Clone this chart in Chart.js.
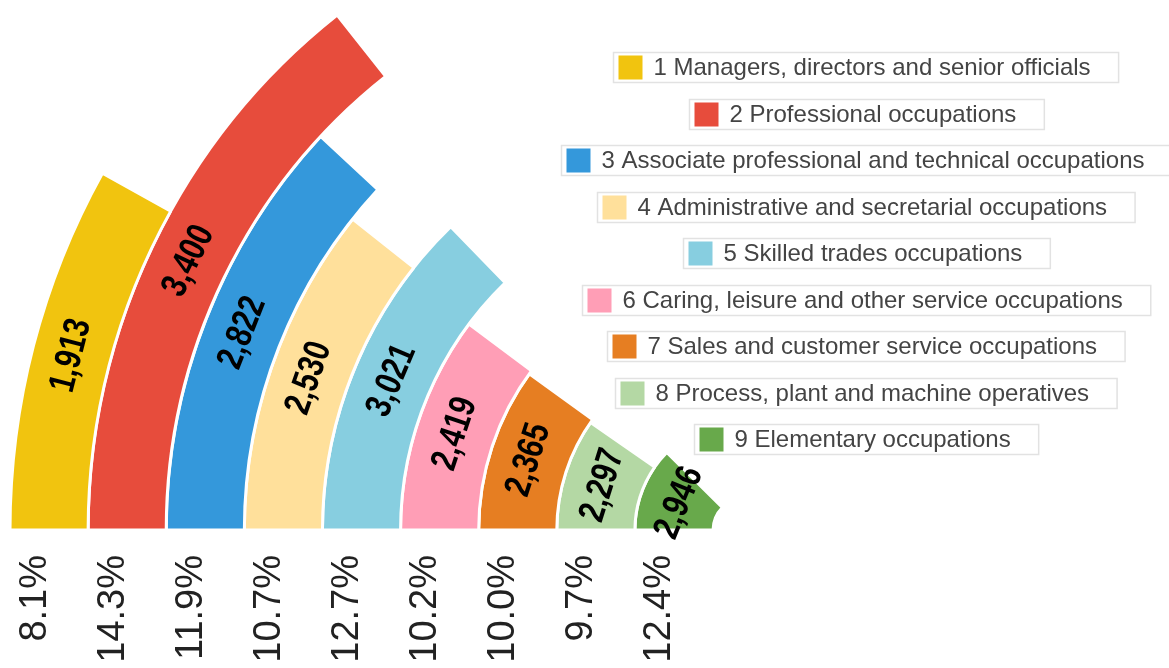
<!DOCTYPE html>
<html>
<head>
<meta charset="utf-8">
<title>Occupations</title>
<script src="https://cdn.jsdelivr.net/npm/chart.js@4.4.0/dist/chart.umd.min.js"></script>
<style>
  html, body { margin: 0; padding: 0; background: #fff; overflow: hidden; }
  #wrap { width: 1169px; height: 668px; position: relative; }
</style>
</head>
<body>
<div id="wrap">
  <canvas id="radialChart" width="1169" height="668"></canvas>
</div>
<script>
// categories, values and colours
const categories = [
  "1 Managers, directors and senior officials",
  "2 Professional occupations",
  "3 Associate professional and technical occupations",
  "4 Administrative and secretarial occupations",
  "5 Skilled trades occupations",
  "6 Caring, leisure and other service occupations",
  "7 Sales and customer service occupations",
  "8 Process, plant and machine operatives",
  "9 Elementary occupations",
];
const counts = [1913, 3400, 2822, 2530, 3021, 2419, 2365, 2297, 2946];
const colours = [
  "#F1C40F", "#E74C3C", "#3498DB", "#FFE09B", "#87CEE0",
  "#FF9EB6", "#E67E22", "#B4D8A4", "#68A94B",
];

const total = counts.reduce((a, b) => a + b, 0);

// one ring per category: the coloured part is the share of the full circle
const datasets = counts.map((v, i) => ({
  label: categories[i],
  data: [v, total - v],
  backgroundColor: [colours[i], "rgba(0,0,0,0)"],
  borderColor: ["#ffffff", "rgba(0,0,0,0)"],
  borderWidth: [3, 0],
  clip: false,
}));

// value along each arc + percent under each ring
const ringLabels = {
  id: "ringLabels",
  afterDatasetsDraw(chart) {
    const ctx = chart.ctx;
    chart.data.datasets.forEach((ds, i) => {
      const arc = chart.getDatasetMeta(i).data[0];
      const p = arc.getProps(["x", "y", "startAngle", "endAngle", "innerRadius", "outerRadius"], true);
      const mid = (p.startAngle + p.endAngle) / 2;
      const r = (p.innerRadius + p.outerRadius) / 2;

      ctx.save();
      ctx.translate(p.x + r * Math.cos(mid), p.y + r * Math.sin(mid));
      ctx.rotate(mid + Math.PI / 2);
      ctx.scale(0.8, 1);
      ctx.fillStyle = "#000";
      ctx.font = "bold 37px 'Liberation Sans', Arial, sans-serif";
      ctx.textAlign = "center";
      ctx.textBaseline = "middle";
      ctx.fillText(ds.data[0].toLocaleString("en-GB"), 0, 0);
      ctx.restore();

      const pct = ((ds.data[0] / total) * 100).toFixed(1) + "%";
      ctx.save();
      ctx.translate(p.x - r - 14, p.y + 25);
      ctx.rotate(-Math.PI / 2);
      ctx.fillStyle = "#222";
      ctx.font = "38px 'Liberation Sans', Arial, sans-serif";
      ctx.textAlign = "right";
      ctx.textBaseline = "middle";
      ctx.fillText(pct, 0, 0);
      ctx.restore();
    });
  },
};

// boxed legend on the right, one centred row per ring
const boxLegend = {
  id: "boxLegend",
  afterDraw(chart) {
    const ctx = chart.ctx;
    const cx = 866;
    const top = 67;
    const step = 46.5;
    ctx.save();
    ctx.font = "24px 'Liberation Sans', Arial, sans-serif";
    chart.data.datasets.forEach((ds, i) => {
      const tw = ctx.measureText(ds.label).width;
      const w = 40 + tw + 28;
      const x = Math.round(cx - w / 2) + 0.5;
      const y = Math.round(top + i * step - 15) + 0.5;
      ctx.fillStyle = "#fff";
      ctx.fillRect(x, y, w, 30);
      ctx.strokeStyle = "#e2e2e2";
      ctx.lineWidth = 1.5;
      ctx.strokeRect(x, y, w, 30);
      ctx.fillStyle = ds.backgroundColor[0];
      ctx.fillRect(x + 5, y + 3, 24, 24);
      ctx.fillStyle = "#444";
      ctx.textAlign = "left";
      ctx.textBaseline = "middle";
      ctx.fillText(ds.label, x + 40, y + 16);
    });
    ctx.restore();
  },
};

new Chart(document.getElementById("radialChart"), {
  type: "doughnut",
  data: { labels: ["value", "rest"], datasets: datasets },
  options: {
    responsive: false,
    animation: false,
    devicePixelRatio: 1,
    events: [],
    rotation: -90,
    circumference: 360,
    radius: 735,
    cutout: "4.35%",
    layout: { padding: { left: 321, right: 0, top: 392, bottom: 0 } },
    plugins: { legend: { display: false }, tooltip: { enabled: false } },
  },
  plugins: [ringLabels, boxLegend],
});
</script>
</body>
</html>
